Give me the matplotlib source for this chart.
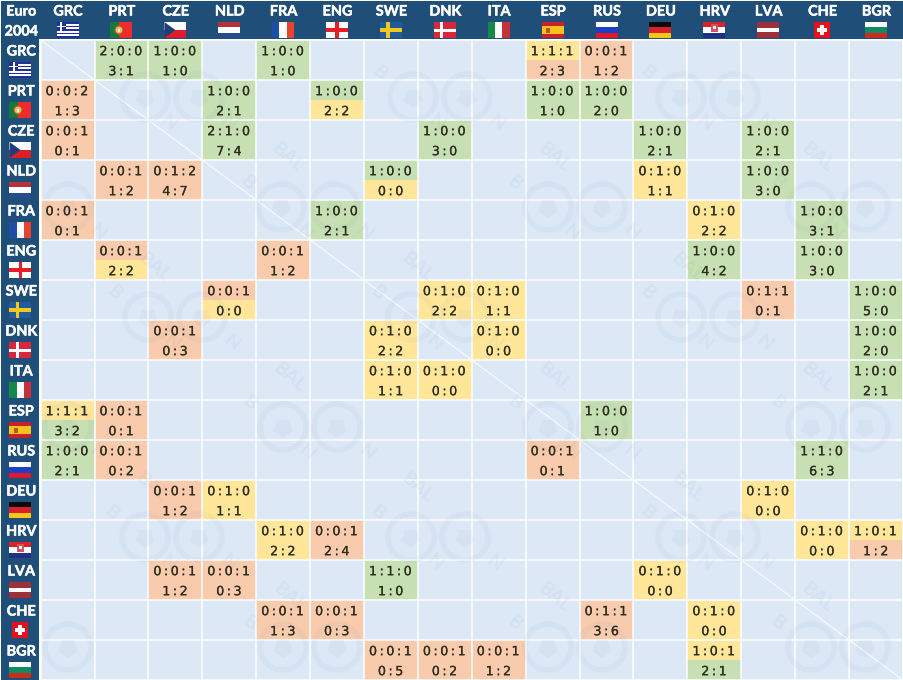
import matplotlib
matplotlib.use("Agg")
import matplotlib.pyplot as plt
import matplotlib.patheffects as pe
from matplotlib.patches import Rectangle, Circle, Polygon, RegularPolygon

plt.rcParams['font.family'] = ['Lato', 'DejaVu Sans']
plt.rcParams['text.hinting'] = 'none'
plt.rcParams['text.hinting_factor'] = 1

teams = ["GRC", "PRT", "CZE", "NLD", "FRA", "ENG", "SWE", "DNK",
         "ITA", "ESP", "RUS", "DEU", "HRV", "LVA", "CHE", "BGR"]
title_lines = ["Euro", "2004"]

# opponent, wins:draws:losses, goals
GRC = [("PRT", "2:0:0", "3:1"), ("CZE", "1:0:0", "1:0"), ("FRA", "1:0:0", "1:0"), ("ESP", "1:1:1", "2:3"), ("RUS", "0:0:1", "1:2")]
PRT = [("GRC", "0:0:2", "1:3"), ("NLD", "1:0:0", "2:1"), ("ENG", "1:0:0", "2:2"), ("ESP", "1:0:0", "1:0"), ("RUS", "1:0:0", "2:0")]
CZE = [("GRC", "0:0:1", "0:1"), ("NLD", "2:1:0", "7:4"), ("DNK", "1:0:0", "3:0"), ("DEU", "1:0:0", "2:1"), ("LVA", "1:0:0", "2:1")]
NLD = [("PRT", "0:0:1", "1:2"), ("CZE", "0:1:2", "4:7"), ("SWE", "1:0:0", "0:0"), ("DEU", "0:1:0", "1:1"), ("LVA", "1:0:0", "3:0")]
FRA = [("GRC", "0:0:1", "0:1"), ("ENG", "1:0:0", "2:1"), ("HRV", "0:1:0", "2:2"), ("CHE", "1:0:0", "3:1")]
ENG = [("PRT", "0:0:1", "2:2"), ("FRA", "0:0:1", "1:2"), ("HRV", "1:0:0", "4:2"), ("CHE", "1:0:0", "3:0")]
SWE = [("NLD", "0:0:1", "0:0"), ("DNK", "0:1:0", "2:2"), ("ITA", "0:1:0", "1:1"), ("LVA", "0:1:1", "0:1"), ("BGR", "1:0:0", "5:0")]
DNK = [("CZE", "0:0:1", "0:3"), ("SWE", "0:1:0", "2:2"), ("ITA", "0:1:0", "0:0"), ("BGR", "1:0:0", "2:0")]
ITA = [("SWE", "0:1:0", "1:1"), ("DNK", "0:1:0", "0:0"), ("BGR", "1:0:0", "2:1")]
ESP = [("GRC", "1:1:1", "3:2"), ("PRT", "0:0:1", "0:1"), ("RUS", "1:0:0", "1:0")]
RUS = [("GRC", "1:0:0", "2:1"), ("PRT", "0:0:1", "0:2"), ("ESP", "0:0:1", "0:1"), ("CHE", "1:1:0", "6:3")]
DEU = [("CZE", "0:0:1", "1:2"), ("NLD", "0:1:0", "1:1"), ("LVA", "0:1:0", "0:0")]
HRV = [("FRA", "0:1:0", "2:2"), ("ENG", "0:0:1", "2:4"), ("CHE", "0:1:0", "0:0"), ("BGR", "1:0:1", "1:2")]
LVA = [("CZE", "0:0:1", "1:2"), ("NLD", "0:0:1", "0:3"), ("SWE", "1:1:0", "1:0"), ("DEU", "0:1:0", "0:0")]
CHE = [("FRA", "0:0:1", "1:3"), ("ENG", "0:0:1", "0:3"), ("RUS", "0:1:1", "3:6"), ("HRV", "0:1:0", "0:0")]
BGR = [("SWE", "0:0:1", "0:5"), ("DNK", "0:0:1", "0:2"), ("ITA", "0:0:1", "1:2"), ("HRV", "1:0:1", "2:1")]
rows = [GRC, PRT, CZE, NLD, FRA, ENG, SWE, DNK, ITA, ESP, RUS, DEU, HRV, LVA, CHE, BGR]

W, H = 904, 680
X0, Y0, X1, Y1 = 40.6, 40.0, 903.0, 680.0
BG, HEAD = "#DCE8F5", "#1F4E79"
GREEN, ORANGE, YELLOW = "#C6E0B4", "#F8CBAD", "#FFE699"
INK = "#2e2c1c"
WM = "#5f86ad"
THIN = "\u2009"

fig = plt.figure(figsize=(W / 100, H / 100), dpi=100, facecolor="white")

# pixel-space axes for header band, flags and watermark
px = fig.add_axes([0, 0, 1, 1], zorder=1)
px.set_xlim(0, W); px.set_ylim(H, 0); px.axis("off")
# index-space axes for the table itself
ax = fig.add_axes([X0 / W, 1 - Y1 / H, (X1 - X0) / W, (Y1 - Y0) / H], zorder=0)
ax.set_xlim(0, 16); ax.set_ylim(16, 0); ax.axis("off")
ov = fig.add_axes(ax.get_position(), zorder=3)
ov.set_xlim(0, 16); ov.set_ylim(16, 0); ov.axis("off"); ov.patch.set_alpha(0)
px.patch.set_alpha(0)


def outcome_colour(a, b):
    return GREEN if a > b else ORANGE if a < b else YELLOW


def spaced(s):
    return THIN.join(s)


CELL_FONT = dict(ha="center", va="center", fontsize=9.1, color=INK, family="DejaVu Sans",
                 path_effects=[pe.withStroke(linewidth=0.15, foreground=INK)])
ax.add_patch(Rectangle((0, 0), 16, 16, fc=BG, ec="none"))
for i, row in enumerate(rows):
    for opp, rec, goals in row:
        j = teams.index(opp)
        w, d, l = [int(v) for v in rec.split(":")]
        gf, ga = [int(v) for v in goals.split(":")]
        ax.add_patch(Rectangle((j, i), 1, .5, fc=outcome_colour(w, l), ec="none"))
        ax.add_patch(Rectangle((j, i + .5), 1, .5, fc=outcome_colour(gf, ga), ec="none"))
        ov.text(j + .5, i + .29, spaced(rec), **CELL_FONT)
        ov.text(j + .5, i + .79, spaced(goals), **CELL_FONT)
for k in range(17):
    ax.axvline(k, color="white", lw=1.1)
    ax.axhline(k, color="white", lw=1.1)
ax.plot([0, 16], [0, 16], color="white", lw=0.8, alpha=.85)

# watermark
wm_centres = [(172, 97), (440, 97), (708, 97),
              (41, 207), (308, 207), (575, 207), (838, 207),
              (175, 317), (438, 317), (708, 317),
              (41, 427), (310, 427), (575, 427), (838, 427),
              (172, 537), (438, 537), (708, 537),
              (41, 647), (310, 647), (575, 647), (838, 647)]
clip = Rectangle((X0, Y0), X1 - X0, Y1 - Y0, transform=px.transData)
for cx, cy in wm_centres:
    items = []
    for dx in (-27, 27):
        items.append(px.add_patch(Circle((cx + dx, cy), 23, fc="none", ec=WM, lw=4.0, alpha=.055)))
        items.append(px.add_patch(RegularPolygon((cx + dx, cy + 1), 5, radius=10, fc=WM, ec="none", alpha=.055)))
    for t, ox, oy in (("BAL", -20, -50), ("B", -60, -24), ("N", -3, 26), ("N", 57, 26)):
        tx, ty = cx + ox, cy + oy
        if X0 + 12 < tx < X1 - 12 and Y0 + 12 < ty < Y1 - 12:
            items.append(px.text(tx, ty, t, rotation=-40, ha="center", va="center", rotation_mode="anchor",
                                 fontsize=14, fontweight="bold", color=WM, alpha=.07))
    for it in items:
        it.set_clip_path(clip)

# header band
px.add_patch(Rectangle((1, 1), W - 1, 38.2, fc=HEAD, ec="none", zorder=4))
px.add_patch(Rectangle((1, 1), 38.2, H - 1, fc=HEAD, ec="none", zorder=4))


def bands_h(cx, top, cols, weights=None, h=16, w=22):
    weights = weights or [1] * len(cols)
    y = top
    for c, wt in zip(cols, weights):
        dy = h * wt / sum(weights)
        px.add_patch(Rectangle((cx - w / 2, y), w, dy, fc=c, ec="none", zorder=5))
        y += dy


def bands_v(cx, top, cols, weights=None, h=16, w=22):
    weights = weights or [1] * len(cols)
    x = cx - w / 2
    for c, wt in zip(cols, weights):
        dx = w * wt / sum(weights)
        px.add_patch(Rectangle((x, top), dx, h, fc=c, ec="none", zorder=5))
        x += dx


def box(x, y, w, h, c):
    px.add_patch(Rectangle((x, y), w, h, fc=c, ec="none", zorder=6))


def flag(code, cx, t):
    x = cx - 11
    if code == "GRC":
        bands_h(cx, t, ["#1F2F9E", "white"] * 4 + ["#1F2F9E"])
        box(x, t, 9, 9, "#1F2F9E"); box(x, t + 3.5, 9, 1.8, "white"); box(x + 3.6, t, 1.8, 9, "white")
    elif code == "PRT":
        bands_v(cx, t, ["#0F7A3C", "#EE2C2C"], [2, 3])
        px.add_patch(Circle((x + 8.5, t + 8), 4, fc="#E8C15A", ec="#C84B2F", lw=.8, zorder=6))
        box(x + 7.3, t + 6.5, 2.4, 3, "#F4F0E8")
    elif code == "CZE":
        bands_h(cx, t, ["white", "#DC1E2A"])
        px.add_patch(Polygon([(x, t), (x + 11, t + 8), (x, t + 16)], fc="#1F3F78", ec="none", zorder=6))
    elif code == "NLD":
        bands_h(cx, t, ["#B4323C", "white", "#274B91"])
    elif code == "FRA":
        bands_v(cx, t, ["#1D4FA8", "white", "#E8432F"])
    elif code == "ENG":
        bands_h(cx, t, ["white"])
        box(x, t + 6.3, 22, 3.4, "#E81C24"); box(cx - 1.7, t, 3.4, 16, "#E81C24")
    elif code == "SWE":
        bands_h(cx, t, ["#1F5C99"])
        box(x, t + 6.3, 22, 3.4, "#F2C81E"); box(x + 6.5, t, 3.4, 16, "#F2C81E")
    elif code == "DNK":
        bands_h(cx, t, ["#D8273D"])
        box(x, t + 6.5, 22, 3, "white"); box(x + 6.5, t, 3, 16, "white")
    elif code == "ITA":
        bands_v(cx, t, ["#138A4A", "white", "#C8313A"])
    elif code == "ESP":
        bands_h(cx, t, ["#C8202C", "#F6C21C", "#C8202C"], [1, 2, 1])
        box(x + 4.5, t + 6, 4, 4.5, "#B8562A")
    elif code == "RUS":
        bands_h(cx, t, ["white", "#1C3FC8", "#E0182C"])
    elif code == "DEU":
        bands_h(cx, t, ["#0A0A0A", "#D8202A", "#F5C518"])
    elif code == "HRV":
        bands_h(cx, t, ["#D8222C", "white", "#1F2F86"])
        box(cx - 3.2, t + 2, 6.4, 8, "#D8505A"); box(cx - 1.3, t + 3.5, 2.6, 3, "white")
    elif code == "LVA":
        bands_h(cx, t, ["#9E3039", "white", "#9E3039"], [2, 1, 2])
    elif code == "CHE":
        bands_h(cx, t, ["#E8101E"], w=16)
        box(cx - 5, t + 6, 10, 4, "white"); box(cx - 2, t + 3, 4, 10, "white")
    elif code == "BGR":
        bands_h(cx, t, ["white", "#0F8C60", "#CE2B1E"])


HEAD_FONT = dict(ha="center", va="center", fontsize=10.4, fontweight="bold", color="white", zorder=7,
                 path_effects=[pe.withStroke(linewidth=0.35, foreground="white")])
cw = (X1 - X0) / 16
ch = (Y1 - Y0) / 16
for n, code in enumerate(teams):
    cx = X0 + cw * (n + .5)
    px.text(cx, 11.5, code, **HEAD_FONT)
    flag(code, cx, 22)
    ty = Y0 + ch * n
    px.text(20.8, ty + 11.5, code, **HEAD_FONT)
    flag(code, 20.5, ty + 22)
px.text(20.8, 11.5, title_lines[0], **HEAD_FONT)
px.text(20.8, 31.5, title_lines[1], **HEAD_FONT)

fig.savefig("out.png", dpi=100, facecolor="white")
